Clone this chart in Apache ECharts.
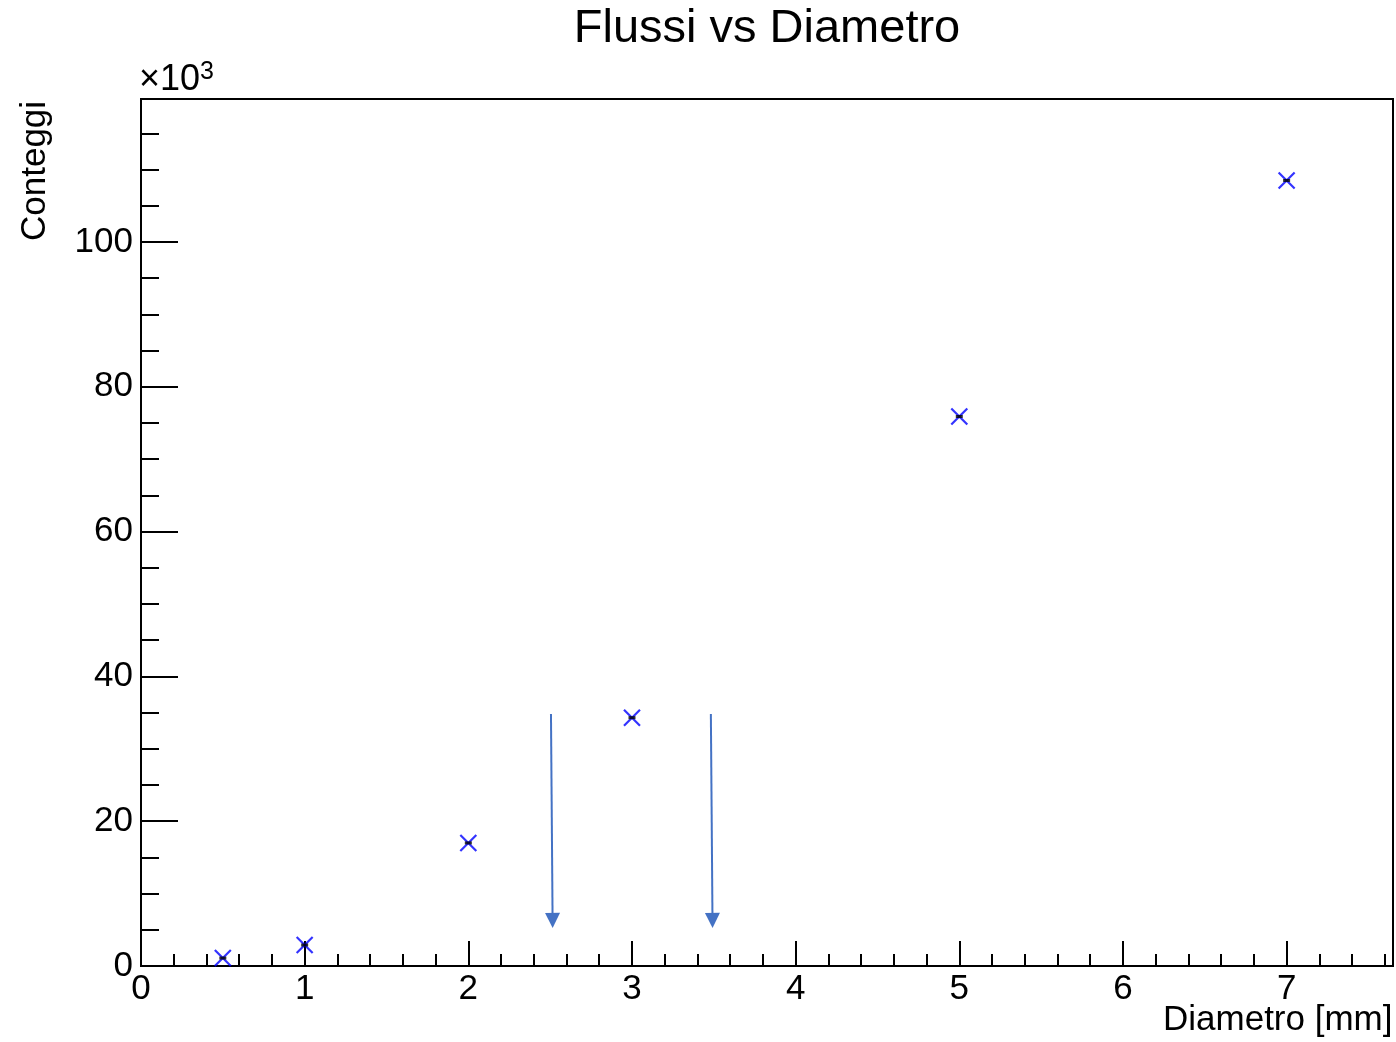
<!DOCTYPE html>
<html>
<head>
<meta charset="utf-8">
<script src="https://cdn.jsdelivr.net/npm/echarts@6/dist/echarts.min.js"></script>
<style>
  html, body { margin: 0; padding: 0; background: #fff; }
  #chart { width: 1396px; height: 1042px; }
</style>
</head>
<body>
<div id="chart"></div>
<script>
// dati (conteggi in unita' di 10^3)
var diametri = [0.5, 1, 2, 3, 5, 7];
var conteggi = [1.1, 2.9, 17.0, 34.3, 75.9, 108.5];

// frecce: [x inizio, y inizio, x fine, y fine]
var frecce = [
    [2.505, 34.8, 2.515, 6.3],
    [3.482, 34.8, 3.492, 6.3]
];

var xMin = 0, xMax = 7.65;
var yMin = 0, yMax = 119.75;

var FONT = 'Liberation Sans';
var crossPath = 'path://M0,0 L10,10 M10,0 L0,10';

function lineTable(id) {
    var myChart = echarts.init(document.getElementById(id));

    var punti = diametri.map(function (d, i) { return [d, conteggi[i]]; });
    var lineeFrecce = frecce.map(function (f) {
        return { coords: [[f[0], f[1]], [f[2], f[3]]] };
    });

    function assex(idx, interval, len, showLabel) {
        return {
            type: 'value', gridIndex: 0, min: xMin, max: xMax, interval: interval,
            position: 'bottom',
            axisLine: { show: idx === 0, onZero: false, lineStyle: { color: '#000', width: 2 } },
            axisTick: { show: true, inside: true, length: len, lineStyle: { color: '#000', width: 2 } },
            axisLabel: {
                show: showLabel, showMaxLabel: false, margin: 6,
                color: '#000', fontFamily: FONT, fontSize: 35
            },
            splitLine: { show: false }
        };
    }
    function assey(idx, interval, len, showLabel) {
        return {
            type: 'value', gridIndex: 0, min: yMin, max: yMax, interval: interval,
            position: 'left',
            axisLine: { show: idx === 0, onZero: false, lineStyle: { color: '#000', width: 2 } },
            axisTick: { show: true, inside: true, length: len, lineStyle: { color: '#000', width: 2 } },
            axisLabel: {
                show: showLabel, showMaxLabel: false, margin: 8,
                color: '#000', fontFamily: FONT, fontSize: 35
            },
            splitLine: { show: false }
        };
    }

    var option = {
        animation: false,
        backgroundColor: '#fff',
        title: {
            text: 'Flussi vs Diametro',
            left: 762, top: 1, textAlign: 'center',
            textStyle: { color: '#000', fontFamily: FONT, fontSize: 47, fontWeight: 'normal' }
        },
        grid: {
            left: 141, right: 3, top: 99, bottom: 76,
            show: true, borderColor: '#000', borderWidth: 2, backgroundColor: 'transparent'
        },
        xAxis: [assex(0, 1, 25, true), assex(1, 0.2, 12, false)],
        yAxis: [assey(0, 20, 37, true), assey(1, 5, 18, false)],
        graphic: [
            {
                type: 'text', left: 1393 - 234 + 4, top: 1003,
                style: { text: 'Diametro [mm]', fill: '#000', font: '35px "' + FONT + '"' }
            },
            {
                type: 'text', x: 18, y: 241, rotation: Math.PI / 2,
                style: { text: 'Conteggi', fill: '#000', font: '35px "' + FONT + '"', textAlign: 'left', textVerticalAlign: 'top' }
            },
            {
                type: 'text', left: 139, top: 60,
                style: {
                    text: '{a|×10}{b|3}',
                    rich: {
                        a: { fontFamily: FONT, fontSize: 36, fill: '#000', verticalAlign: 'bottom', lineHeight: 38 },
                        b: { fontFamily: FONT, fontSize: 25, fill: '#000', verticalAlign: 'top', lineHeight: 38, padding: [0, 0, 15, 0] }
                    }
                }
            }
        ],
        series: [
            {
                name: 'errori', type: 'scatter', xAxisIndex: 0, yAxisIndex: 0,
                data: punti, symbol: 'rect', symbolSize: [7, 3],
                itemStyle: { color: '#000' }, z: 5
            },
            {
                name: 'Conteggi', type: 'scatter', xAxisIndex: 0, yAxisIndex: 0,
                data: punti, symbol: crossPath, symbolSize: 16,
                itemStyle: { color: 'none', borderColor: '#0000ff', borderWidth: 2.2 }, z: 4
            },
            {
                name: 'frecce', type: 'lines', coordinateSystem: 'cartesian2d',
                xAxisIndex: 0, yAxisIndex: 0,
                data: lineeFrecce,
                symbol: ['none', 'triangle'], symbolSize: 15,
                lineStyle: { color: '#4472c4', width: 2, opacity: 1 },
                itemStyle: { color: '#4472c4' }, z: 6
            }
        ]
    };

    myChart.setOption(option);
    window.addEventListener('resize', function () { myChart.resize(); });
}

lineTable('chart');
</script>
</body>
</html>
